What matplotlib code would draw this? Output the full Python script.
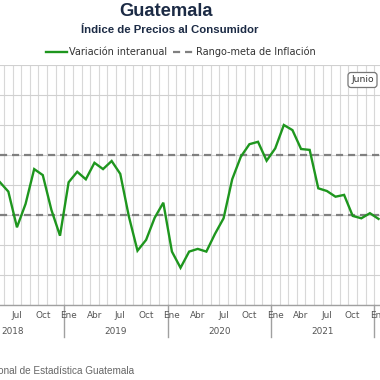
import matplotlib
matplotlib.use("Agg")
import matplotlib.pyplot as plt
from matplotlib.patches import FancyBboxPatch

# Data: month index 0 = Ene 2019
months = list(range(-8, 37))
inflacion = [4.10, 3.78, 2.59, 3.37, 4.53, 4.33, 3.17, 2.31,
             4.09, 4.44, 4.19, 4.74, 4.53, 4.80, 4.37, 2.95, 1.81, 2.17, 2.91, 3.41,
             1.78, 1.24, 1.78, 1.87, 1.78, 2.37, 2.89, 4.19, 4.94, 5.36, 5.44, 4.81,
             5.22, 6.00, 5.83, 5.20, 5.17, 3.89, 3.80, 3.61, 3.67, 2.97, 2.89, 3.06,
             2.87]
meta_inf = 3.0
meta_sup = 5.0
tick_pos = [-6, -3, 0, 3, 6, 9, 12, 15, 18, 21, 24, 27, 30, 33, 36]
tick_lbl = ["Jul", "Oct", "Ene", "Abr", "Jul", "Oct", "Ene", "Abr", "Jul", "Oct",
            "Ene", "Abr", "Jul", "Oct", "Ene"]
years = ["2018", "2019", "2020", "2021"]
year_start = [-12, 0, 12, 24]

plt.rcParams['font.family'] = ['Liberation Sans', 'DejaVu Sans']
fig = plt.figure(figsize=(3.8, 3.8), dpi=100)
W = H = 380.0
top_px, bot_px = 65, 305
ax = fig.add_axes([0, (H - bot_px) / H, 1, (bot_px - top_px) / H])

xl, xr = -7.97, 36.17
ax.set_xlim(xl, xr)
ax.set_ylim(0, 8)

# grid
for m in range(-13, 38):
    ax.axvline(m + 0.5, color='#d8d8d8', lw=0.8, zorder=0)
for v in range(0, 9):
    ax.axhline(v, color='#d0d0d0', lw=0.8, zorder=0)

ax.axhline(meta_inf, color='#808080', lw=1.6, ls=(0, (3.2, 2.2)), zorder=2)
ax.axhline(meta_sup, color='#808080', lw=1.6, ls=(0, (3.2, 2.2)), zorder=2)
ax.plot(months, inflacion, color='#1e961e', lw=1.7, zorder=3, solid_joinstyle='miter')

for s in ax.spines.values():
    s.set_visible(False)
ax.set_xticks([])
ax.set_yticks([])
ax.axhline(0, color='#a0a0a0', lw=1.0, zorder=1, clip_on=False)

# month labels
for p, l in zip(tick_pos, tick_lbl):
    ax.text(p, -0.36, l, ha='center', va='center', fontsize=6.4, color='#555555',
            family='DejaVu Sans', clip_on=False)
# year separators and labels
trans = ax.get_xaxis_transform()
for ys in year_start[1:] + [36]:
    ax.plot([ys - 0.5, ys - 0.5], [0, -32 / 240], transform=trans, color='#a0a0a0',
            lw=1.0, clip_on=False)
for y, ys in zip(years, year_start):
    ax.text(ys + 5.5, -0.89, y, ha='center', va='center', fontsize=6.4, color='#555555',
            family='DejaVu Sans')

# titles
fig.text(166 / W, 1 - 11 / H, "Guatemala", ha='center', va='center', fontsize=13.2,
         fontweight='bold', color='#1c2b45')
fig.text(170 / W, 1 - 30 / H, "Índice de Precios al Consumidor", ha='center', va='center',
         fontsize=8.2, fontweight='bold', color='#1c2b45')

# legend
ly = 1 - 52 / H
fig.add_artist(plt.Line2D([45.7 / W, 66.7 / W], [ly, ly], color='#1e961e', lw=1.7))
fig.text(69 / W, ly, "Variación interanual", ha='left', va='center', fontsize=7.0,
         color='#333333', family='DejaVu Sans')
fig.add_artist(plt.Line2D([172.7 / W, 195 / W], [ly, ly], color='#808080', lw=1.6,
                          ls=(0, (3.2, 2.2))))
fig.text(196 / W, ly, "Rango-meta de Inflación", ha='left', va='center', fontsize=7.0,
         color='#333333', family='DejaVu Sans')

# button
btn = FancyBboxPatch((348 / W, 1 - 87.5 / H), 29 / W, 15 / H,
                     boxstyle="round,pad=0,rounding_size=0.008",
                     transform=fig.transFigure, facecolor='white', edgecolor='#777777',
                     lw=0.9, zorder=5)
fig.add_artist(btn)
fig.text(362.5 / W, 1 - 80 / H, "Junio", ha='center', va='center', fontsize=6.6,
         color='#333333', family='DejaVu Sans', zorder=6)

# source
fig.text(-2 / W, 1 - 371 / H, "onal de Estadística Guatemala", ha='left', va='center',
         fontsize=7.2, color='#666666')

fig.savefig("out.png", dpi=100, facecolor='white')
